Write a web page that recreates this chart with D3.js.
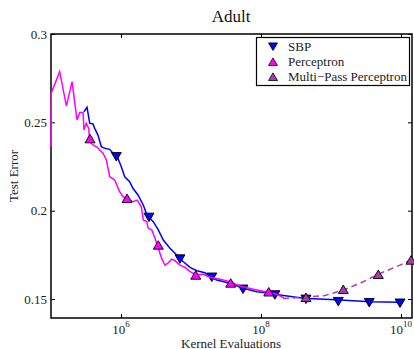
<!DOCTYPE html>
<html>
<head>
<meta charset="utf-8">
<script src="https://cdn.jsdelivr.net/npm/d3@7"></script>
<style>
  html, body { margin: 0; padding: 0; background: #fff; }
  svg { display: block; font-family: "Liberation Serif", "Times New Roman", serif; }
</style>
</head>
<body>
<svg id="chart" width="414" height="349"></svg>
<script>
// ---------------- data ----------------
const titleText = "Adult";
const xLabel = "Kernel Evaluations";
const yLabel = "Test Error";
const xTickValues = [1e6, 1e8, 1e10];
const xTickExponents = ["6", "8", "10"];
const yTickValues = [0.15, 0.2, 0.25, 0.3];
const yTickLabels = ["0.15", "0.2", "0.25", "0.3"];
const seriesNames = ["SBP", "Perceptron", "Multi\u2212Pass Perceptron"];

// SBP curve
const sbpX = [2.96e5, 3.27e5, 3.57e5, 3.98e5, 4.21e5, 4.69e5, 5.23e5, 5.85e5, 6.90e5, 7.69e5,
  9.06e5, 1.01e6, 1.13e6, 1.33e6, 1.48e6, 1.75e6, 2.08e6, 2.30e6, 2.45e6, 2.89e6,
  3.41e6, 4.02e6, 5.01e6, 6.25e6, 7.76e6, 9.68e6, 1.21e7, 1.58e7, 1.87e7, 2.33e7,
  3.61e7, 5.58e7, 8.69e7, 1.35e8, 1.87e8, 4.02e8, 1.35e9, 3.61e9, 9.68e9];
const sbpY = [0.2560, 0.2585, 0.2495, 0.2491, 0.2466, 0.2428, 0.2362, 0.2353, 0.2347, 0.2325,
  0.2296, 0.2249, 0.2192, 0.2164, 0.2127, 0.2089, 0.2032, 0.1985, 0.1966, 0.1938,
  0.1891, 0.1834, 0.1787, 0.1749, 0.1711, 0.1679, 0.1660, 0.1649, 0.1626, 0.1608,
  0.1589, 0.1561, 0.1541, 0.1532, 0.1523, 0.1504, 0.1494, 0.1485, 0.1481];
const sbpMarkX = [8.57e5, 2.51e6, 6.96e6, 1.98e7, 5.53e7, 1.58e8, 4.39e8, 1.27e9, 3.52e9, 9.68e9];
const sbpMarkY = [0.2305, 0.1962, 0.1726, 0.1623, 0.1555, 0.1523, 0.1498, 0.1485, 0.1479, 0.1476];

// Perceptron curve
const percX = [1.00e5, 1.01e5, 1.33e5, 1.66e5, 2.00e5, 2.35e5, 2.57e5, 2.87e5, 2.96e5, 3.19e5,
  3.46e5, 3.57e5, 3.98e5, 4.58e5, 4.96e5, 5.53e5, 6.17e5, 6.90e5, 8.13e5, 9.58e5,
  1.07e6, 1.26e6, 1.48e6, 1.71e6, 1.95e6, 2.08e6, 2.33e6, 2.45e6, 2.75e6, 3.06e6,
  3.41e6, 3.81e6, 4.25e6, 4.74e6, 5.30e6, 5.90e6, 6.96e6, 8.21e6, 9.68e6, 1.21e7,
  1.50e7, 1.87e7, 2.60e7, 3.61e7, 5.01e7, 7.76e7, 1.21e8, 1.67e8, 2.13e8];
const percY = [0.2360, 0.2666, 0.2787, 0.2592, 0.2730, 0.2513, 0.2555, 0.2555, 0.2457, 0.2495,
  0.2466, 0.2390, 0.2372, 0.2359, 0.2343, 0.2325, 0.2287, 0.2192, 0.2174, 0.2107,
  0.2079, 0.2064, 0.2051, 0.2060, 0.2022, 0.1947, 0.1938, 0.1900, 0.1891, 0.1844,
  0.1787, 0.1730, 0.1692, 0.1705, 0.1725, 0.1717, 0.1692, 0.1679, 0.1655, 0.1636,
  0.1640, 0.1623, 0.1612, 0.1598, 0.1574, 0.1555, 0.1540, 0.1527, 0.1506];
const percMarkX = [3.61e5, 1.22e6, 3.41e6, 1.17e7, 3.69e7, 1.29e8];
const percMarkY = [0.2408, 0.2070, 0.1806, 0.1636, 0.1591, 0.1541];

// Multi-pass perceptron curve (dashed)
const mpX = [2.06e8, 4.39e8, 8.20e8, 1.50e9, 2.60e9, 4.74e9, 9.68e9, 1.39e10];
const mpY = [0.1503, 0.1510, 0.1520, 0.1551, 0.1589, 0.1640, 0.1692, 0.1721];
const mpMarkX = [4.39e8, 1.50e9, 4.74e9, 1.39e10];
const mpMarkY = [0.1510, 0.1555, 0.1640, 0.1721];

// ---------------- layout ----------------
const svg = d3.select("#chart");
const m = { left: 51, top: 34, right: 412, bottom: 318 };
const W = m.right - m.left, H = m.bottom - m.top;

const x = d3.scaleLog().domain([1e5, 1.436e10]).range([0, W]);
const y = d3.scaleLinear().domain([0.13925, 0.3]).range([H, 0]);

const g = svg.append("g").attr("transform", `translate(${m.left},${m.top})`);

// frame
g.append("rect").attr("width", W).attr("height", H)
  .attr("fill", "none").attr("stroke", "#000").attr("stroke-width", 1.5);

// axes (ticks inside, mirrored)
const axStyle = sel => {
  sel.select(".domain").remove();
  sel.selectAll("line").attr("stroke", "#000").attr("stroke-width", 1);
  sel.selectAll("text").remove();
};
g.append("g").attr("transform", `translate(0,${H})`)
  .call(d3.axisBottom(x).tickValues(xTickValues).tickSize(-4)).call(axStyle);
g.append("g")
  .call(d3.axisTop(x).tickValues(xTickValues).tickSize(-4)).call(axStyle);
g.append("g")
  .call(d3.axisLeft(y).tickValues(yTickValues).tickSize(-4)).call(axStyle);
g.append("g").attr("transform", `translate(${W},0)`)
  .call(d3.axisRight(y).tickValues(yTickValues).tickSize(-4)).call(axStyle);

// y tick labels
yTickValues.forEach((v, i) => {
  g.append("text").attr("x", -4).attr("y", y(v)).attr("dy", "0.35em")
    .attr("text-anchor", "end").attr("font-size", 13).attr("fill", "#222")
    .text(yTickLabels[i]);
});
// x tick labels with superscripts
xTickValues.forEach((v, i) => {
  const t = g.append("text").attr("x", x(v)).attr("y", H + 16)
    .attr("text-anchor", "middle").attr("font-size", 13).attr("fill", "#222");
  t.append("tspan").text("10");
  t.append("tspan").attr("dy", -7).attr("font-size", 9).text(xTickExponents[i]);
});

// labels
svg.append("text").attr("x", 231).attr("y", 22).attr("text-anchor", "middle")
  .attr("font-size", 17).attr("fill", "#111").text(titleText);
svg.append("text").attr("x", 231).attr("y", 347.5).attr("text-anchor", "middle")
  .attr("font-size", 13).attr("fill", "#222").text(xLabel);
svg.append("text").attr("transform", "translate(18,176) rotate(-90)")
  .attr("text-anchor", "middle").attr("font-size", 13).attr("fill", "#222").text(yLabel);

// markers
const tri = (down, s) => down
  ? `M${-s},${-s * 0.85}L${s},${-s * 0.85}L0,${s * 0.85}Z`
  : `M${-s},${s * 0.85}L${s},${s * 0.85}L0,${-s * 0.85}Z`;

const line = d3.line().x(d => x(d[0])).y(d => y(d[1]));
const plots = g.append("g");

function drawSeries(xs, ys, mx, my, color, fill, down, dash) {
  plots.append("path")
    .datum(xs.map((v, i) => [v, ys[i]]))
    .attr("d", line).attr("fill", "none").attr("stroke", color)
    .attr("stroke-width", 1.5).attr("stroke-dasharray", dash || null);
  plots.append("g").selectAll("path").data(mx.map((v, i) => [v, my[i]])).join("path")
    .attr("transform", d => `translate(${x(d[0])},${y(d[1])})`)
    .attr("d", tri(down, 5)).attr("fill", fill).attr("stroke", "#000").attr("stroke-width", 0.9);
}
drawSeries(sbpX, sbpY, sbpMarkX, sbpMarkY, "#0000ff", "#0000ff", true);
drawSeries(percX, percY, percMarkX, percMarkY, "#ff00ff", "#ff00ff", false);
drawSeries(mpX, mpY, mpMarkX, mpMarkY, "#b03cb0", "#a83ca8", false, "6,4");

// legend
const lg = svg.append("g");
lg.append("rect").attr("x", 256.5).attr("y", 37.5).attr("width", 153).attr("height", 48)
  .attr("fill", "#fff").attr("stroke", "#000").attr("stroke-width", 1.2);
const legendFills = ["#0000ff", "#ff00ff", "#a83ca8"];
const legendDown = [true, false, false];
seriesNames.forEach((n, i) => {
  const cy = 46.7 + i * 15;
  lg.append("path").attr("transform", `translate(273,${cy})`)
    .attr("d", tri(legendDown[i], 4.5)).attr("fill", legendFills[i])
    .attr("stroke", "#000").attr("stroke-width", 0.8);
  lg.append("text").attr("x", 288).attr("y", cy).attr("dy", "0.35em")
    .attr("font-size", 13).attr("fill", "#222").text(n);
});
</script>
</body>
</html>
